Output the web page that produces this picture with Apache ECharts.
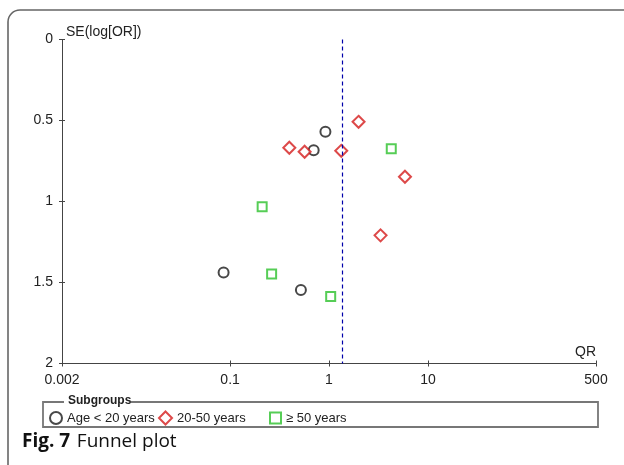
<!DOCTYPE html>
<html>
<head>
<meta charset="utf-8">
<script src="https://cdn.jsdelivr.net/npm/echarts@6/dist/echarts.min.js"></script>
<style>
  html, body { margin: 0; padding: 0; background: #fff; }
  #main { width: 624px; height: 465px; }
</style>
</head>
<body>
<div id="main"></div>
<script>
// subgroup values (odds ratio, standard error of log OR)
var under20OR = [0.92, 0.70, 0.086, 0.52];
var under20SE = [0.57, 0.683, 1.438, 1.547];
var mid20to50OR = [1.99, 0.397, 0.567, 1.33, 5.86, 3.32];
var mid20to50SE = [0.508, 0.668, 0.693, 0.687, 0.847, 1.209];
var over50OR = [4.26, 0.211, 0.263, 1.04];
var over50SE = [0.674, 1.033, 1.448, 1.586];
var pooledOR = 1.34;

var xTickLabels = [0.002, 0.1, 1, 10, 500];
var yTicks = [0, 0.5, 1, 1.5, 2];
var groupNames = ['Age < 20 years', '20-50 years', '\u2265 50 years'];

var chart = echarts.init(document.getElementById('main'));

// x axis is drawn on log10 scale
function lg(v) { return Math.log10(v); }
function pairs(ors, ses) {
    var out = [];
    for (var i = 0; i < ors.length; i++) out.push([lg(ors[i]), ses[i]]);
    return out;
}
var xTickPos = xTickLabels.map(lg);
var xMin = lg(xTickLabels[0]), xMax = lg(xTickLabels[xTickLabels.length - 1]);

var font = '"Liberation Sans", Arial, sans-serif';
var axisCol = '#444';

var option = {
    animation: false,
    grid: { left: 62, top: 39.5, width: 534, height: 324 },
    xAxis: [{
        type: 'value', min: xMin, max: xMax, position: 'bottom',
        name: 'QR', nameLocation: 'end', nameGap: 0,
        nameTextStyle: { fontFamily: font, fontSize: 14, color: '#222', align: 'right', verticalAlign: 'bottom', padding: [0, 0, 4, 0] },
        axisLine: { onZero: false, lineStyle: { color: axisCol, width: 1 } },
        axisTick: { length: 3, customValues: xTickPos, lineStyle: { color: axisCol } },
        axisLabel: {
            customValues: xTickPos, margin: 10, fontFamily: font, fontSize: 14, color: '#222',
            formatter: function (v) { return String(+Math.pow(10, v).toPrecision(3)); }
        },
        splitLine: { show: false }
    }, {
        // second copy only for the inner half of the cross ticks
        type: 'value', min: xMin, max: xMax, position: 'bottom',
        axisLine: { show: true, onZero: false, lineStyle: { color: axisCol, width: 1 } },
        axisTick: { show: true, inside: true, length: 3, customValues: xTickPos, lineStyle: { color: axisCol } },
        axisLabel: { show: false },
        splitLine: { show: false }
    }],
    yAxis: [{
        type: 'value', min: 0, max: 2, interval: 0.5, inverse: true, position: 'left',
        name: 'SE(log[OR])', nameLocation: 'start', nameGap: 0,
        nameTextStyle: { fontFamily: font, fontSize: 14, color: '#222', align: 'left', verticalAlign: 'bottom', padding: [0, 0, 0, 4] },
        axisLine: { show: true, onZero: false, lineStyle: { color: axisCol, width: 1 } },
        axisTick: { show: true, length: 3, lineStyle: { color: axisCol } },
        axisLabel: { margin: 9, fontFamily: font, fontSize: 14, color: '#222' },
        splitLine: { show: false }
    }, {
        type: 'value', min: 0, max: 2, interval: 0.5, inverse: true, position: 'left',
        axisLine: { show: true, onZero: false, lineStyle: { color: axisCol, width: 1 } },
        axisTick: { show: true, inside: true, length: 3, lineStyle: { color: axisCol } },
        axisLabel: { show: false },
        splitLine: { show: false }
    }],
    legend: [
        { data: [groupNames[0]], left: 49, top: 411, padding: 0, itemWidth: 12, itemHeight: 12,
          textStyle: { fontFamily: font, fontSize: 13, color: '#222' } },
        { data: [groupNames[1]], left: 158, top: 410.5, padding: 0, itemWidth: 13, itemHeight: 13,
          textStyle: { fontFamily: font, fontSize: 13, color: '#222' } },
        { data: [groupNames[2]], left: 269, top: 411.5, padding: 0, itemWidth: 11, itemHeight: 11,
          textStyle: { fontFamily: font, fontSize: 13, color: '#222' } }
    ],
    series: [{
        name: groupNames[0], type: 'scatter', symbol: 'emptyCircle', symbolSize: 10,
        itemStyle: { color: '#1a1a1a', borderWidth: 1.5 },
        data: pairs(under20OR, under20SE),
        markLine: {
            silent: true, symbol: 'none', label: { show: false },
            lineStyle: { color: '#0000aa', type: [4, 3], width: 1.2 },
            data: [{ xAxis: lg(pooledOR) }]
        }
    }, {
        name: groupNames[1], type: 'scatter', symbol: 'emptyDiamond', symbolSize: 12,
        itemStyle: { color: '#d41c1c', borderWidth: 1.4 },
        data: pairs(mid20to50OR, mid20to50SE)
    }, {
        name: groupNames[2], type: 'scatter', symbol: 'emptyRect', symbolSize: 9,
        itemStyle: { color: '#2cc12c', borderWidth: 1.5 },
        data: pairs(over50OR, over50SE)
    }],
    graphic: [
        // outer frame of the figure panel
        { type: 'rect', shape: { x: 8, y: 10, width: 700, height: 600, r: 12 },
          style: { fill: 'none', stroke: '#666', lineWidth: 1.6 }, silent: true },
        // legend box with gap for the title
        { type: 'polyline', shape: { points: [[64, 402], [43, 402], [43, 427], [598, 427], [598, 402], [131, 402]] },
          style: { fill: 'none', stroke: '#777', lineWidth: 1.8 }, silent: true },
        { type: 'text', left: 68, top: 395,
          style: { text: 'Subgroups', font: 'bold 12px ' + font, fill: '#222' } },
        // caption
        { type: 'text', left: 22, top: 432,
          style: {
              text: '{b|Fig. 7}  {r|Funnel plot}',
              rich: {
                  b: { fontFamily: '"Open Sans", sans-serif', fontWeight: 'bold', fontSize: 19, fill: '#111' },
                  r: { fontFamily: '"Open Sans", sans-serif', fontSize: 19, fill: '#111' }
              }
          } }
    ]
};
chart.setOption(option);
</script>
</body>
</html>
